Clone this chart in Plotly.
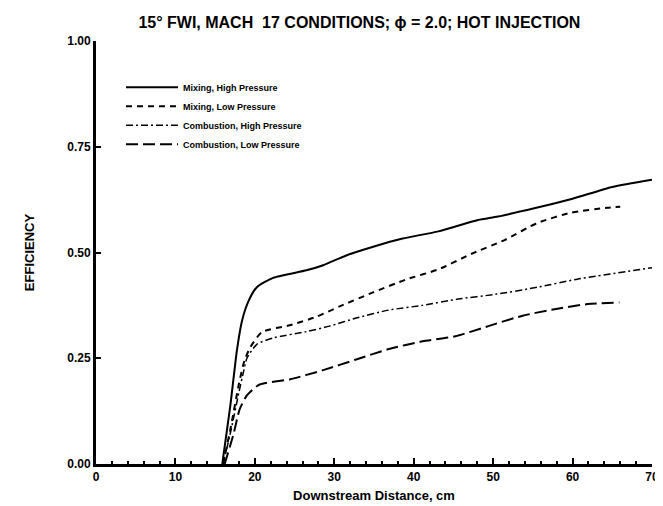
import plotly.graph_objects as go

# ---- data ----
mix_hi_x = [15.9, 16.9, 17.75, 18.4, 19.2, 20.25, 22.3, 26.5, 28.6, 31.5, 34.8, 38.6, 43.1, 48.1, 50.6, 55.3, 60.0, 65.0, 70.0]
mix_hi_y = [0.0, 0.136, 0.27, 0.34, 0.385, 0.418, 0.44, 0.458, 0.47, 0.493, 0.513, 0.533, 0.55, 0.577, 0.585, 0.605, 0.627, 0.655, 0.672]

mix_lo_x = [16.0, 17.0, 18.0, 18.7, 19.4, 20.9, 24.4, 27.75, 30.6, 34.8, 39.0, 43.1, 47.3, 51.5, 55.6, 59.8, 64.4, 66.0]
mix_lo_y = [0.0, 0.09, 0.19, 0.245, 0.275, 0.312, 0.328, 0.348, 0.372, 0.405, 0.436, 0.46, 0.497, 0.53, 0.57, 0.594, 0.606, 0.608]

comb_hi_x = [16.0, 17.0, 18.0, 18.6, 19.0, 20.25, 22.3, 26.5, 29.4, 32.75, 36.9, 41.1, 45.6, 50.25, 55.6, 60.6, 70.0]
comb_hi_y = [0.0, 0.08, 0.17, 0.22, 0.25, 0.283, 0.298, 0.313, 0.326, 0.345, 0.364, 0.375, 0.39, 0.401, 0.418, 0.437, 0.464]

comb_lo_x = [16.2, 17.3, 18.1, 19.0, 20.6, 24.4, 28.6, 32.75, 36.9, 41.1, 45.25, 49.4, 53.6, 57.75, 61.9, 65.9]
comb_lo_y = [0.0, 0.07, 0.13, 0.162, 0.188, 0.2, 0.222, 0.247, 0.272, 0.29, 0.302, 0.326, 0.35, 0.366, 0.378, 0.382]

series_names = ["Mixing, High Pressure", "Mixing, Low Pressure",
                "Combustion, High Pressure", "Combustion, Low Pressure"]
x_ticks = [0, 10, 20, 30, 40, 50, 60, 70]
y_ticks = [0.0, 0.25, 0.5, 0.75, 1.0]
y_tick_labels = ["0.00", "0.25", "0.50", "0.75", "1.00"]

title_text = "15° FWI, MACH  17 CONDITIONS; ϕ = 2.0; HOT INJECTION"

FONT = "Liberation Sans, Arial, sans-serif"

fig = go.Figure()
styles = [
    dict(dash="solid", width=2),
    dict(dash="6px,5px", width=2),
    dict(dash="7px,3px,2px,3px", width=1.5),
    dict(dash="12px,5px", width=2),
]
data = [(mix_hi_x, mix_hi_y), (mix_lo_x, mix_lo_y), (comb_hi_x, comb_hi_y), (comb_lo_x, comb_lo_y)]
for (xs, ys), name, st in zip(data, series_names, styles):
    fig.add_trace(go.Scatter(
        x=xs, y=ys, mode="lines", name=name,
        line=dict(color="black", width=st["width"], dash=st["dash"], shape="spline", smoothing=0.6),
    ))

fig.update_layout(
    width=663, height=506,
    margin=dict(l=88, r=15, t=33, b=48),
    paper_bgcolor="white", plot_bgcolor="white",
    font=dict(family=FONT, color="black"),
    title=dict(text=title_text, x=0.53, xanchor="center", y=0.972, yanchor="middle",
               xref="container", yref="container",
               font=dict(size=16, family=FONT, weight="bold", color="black")),
    legend=dict(x=0.045, y=0.925, xanchor="left", yanchor="top",
                bgcolor="rgba(0,0,0,0)", itemwidth=52, tracegroupgap=0,
                font=dict(size=9, family=FONT, weight="bold", color="black")),
    showlegend=True,
)
fig.update_xaxes(
    range=[0, 70], tickvals=x_ticks, ticktext=[str(v) for v in x_ticks],
    showgrid=False, zeroline=False,
    showline=True, linewidth=3, linecolor="black",
    ticks="inside", ticklen=6, tickwidth=2, tickcolor="black",
    minor=dict(dtick=2, ticks="inside", ticklen=3, tickwidth=2, tickcolor="black"),
    tickfont=dict(size=12, family=FONT, weight="bold"),
    title=dict(text="Downstream Distance, cm", standoff=8,
               font=dict(size=13, family=FONT, weight="bold")),
)
fig.update_yaxes(
    range=[0, 1], tickvals=y_ticks, ticktext=y_tick_labels,
    showgrid=False, zeroline=False,
    showline=True, linewidth=3, linecolor="black",
    ticks="inside", ticklen=5, tickwidth=1.5, tickcolor="black",
    tickfont=dict(size=12, family=FONT, weight="bold"),
    title=dict(text="EFFICIENCY", standoff=30,
               font=dict(size=13, family=FONT, weight="bold")),
)

fig.write_html("out.html")
